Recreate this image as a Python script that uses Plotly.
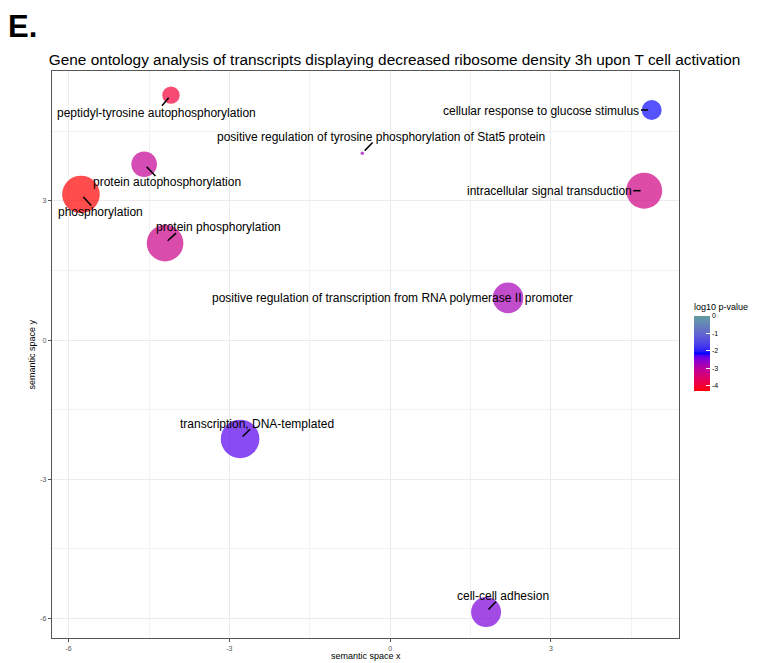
import numpy as np
import plotly.graph_objects as go

# GO terms (REVIGO semantic space) -------------------------------------------
terms = [
    "peptidyl-tyrosine autophosphorylation",
    "positive regulation of tyrosine phosphorylation of Stat5 protein",
    "protein autophosphorylation",
    "phosphorylation",
    "protein phosphorylation",
    "cellular response to glucose stimulus",
    "intracellular signal transduction",
    "positive regulation of transcription from RNA polymerase II promoter",
    "transcription, DNA-templated",
    "cell-cell adhesion",
]
sem_x = [-4.09, -0.52, -4.59, -5.77, -4.20, 4.88, 4.74, 2.20, -2.80, 1.79]
sem_y = [5.28, 4.03, 3.79, 3.14, 2.09, 4.96, 3.22, 0.91, -2.13, -5.86]
log_size = [2.74, 1.96, 3.68, 5.71, 5.52, 3.00, 5.40, 4.44, 5.92, 4.34]
log10_p = [-3.95, -2.72, -3.10, -4.28, -3.21, -2.10, -3.27, -2.78, -2.29, -2.46]

x_tick_vals = [-6, -3, 0, 3]
x_tick_text = ["-6", "-3", "0", "3"]
y_tick_vals = [-6, -3, 0, 3]
y_tick_text = ["-6", "-3", "0", "3"]
cbar_tick_vals = [0, -1, -2, -3, -4]
cbar_tick_text = ["0", "-1", "-2", "-3", "-4"]

# repelled label placement (screen pixels, y down): label centre offset
# from its point, and far end of the leader segment (None = no segment)
label_offsets = [
    (-14, 17.7), (19, -16.3), (23.3, 17.7), (19.3, 17.7), (53, -16.3),
    (-110.2, 1), (-94.5, 0.3), (-115.5, 0), (17, -15), (17, -16.3),
]
segment_ends = [
    (-9, 10.7), (10.3, -10.6), (11.3, 11.7), (10.3, 11), (11, -10),
    (-10.7, 0), (-11, 0), None, (10, -9.7), (10, -10.6),
]
SEG_GAP = 3.5

FONT = "Liberation Sans, Arial, Helvetica, sans-serif"


# colour ramp red -> blue -> cadetblue, interpolated in CIELAB -------------
def srgb_to_lab(rgb):
    c = np.asarray(rgb, float) / 255.0
    lin = np.where(c <= 0.04045, c / 12.92, ((c + 0.055) / 1.055) ** 2.4)
    m = np.array([[0.4124564, 0.3575761, 0.1804375],
                  [0.2126729, 0.7151522, 0.0721750],
                  [0.0193339, 0.1191920, 0.9503041]])
    xyz = m @ lin / np.array([0.95047, 1.0, 1.08883])
    d = 6 / 29
    f = np.where(xyz > d ** 3, np.cbrt(xyz), xyz / (3 * d * d) + 4 / 29)
    return np.array([116 * f[1] - 16, 500 * (f[0] - f[1]), 200 * (f[1] - f[2])])


def lab_to_srgb(lab):
    L, a, b = lab
    fy = (L + 16) / 116
    fx = fy + a / 500
    fz = fy - b / 200
    d = 6 / 29
    f = np.array([fx, fy, fz])
    xyz = np.where(f > d, f ** 3, 3 * d * d * (f - 4 / 29)) * np.array([0.95047, 1.0, 1.08883])
    minv = np.array([[3.2404542, -1.5371385, -0.4985314],
                     [-0.9692660, 1.8760108, 0.0415560],
                     [0.0556434, -0.2040259, 1.0572252]])
    lin = np.clip(minv @ xyz, 0, 1)
    c = np.where(lin <= 0.0031308, 12.92 * lin, 1.055 * lin ** (1 / 2.4) - 0.055)
    return tuple(int(round(v)) for v in np.clip(c, 0, 1) * 255)


anchors = [srgb_to_lab((255, 0, 0)), srgb_to_lab((0, 0, 255)), srgb_to_lab((95, 158, 160))]
colorscale = []
for u in np.linspace(0, 1, 41):
    seg = 0 if u <= 0.5 else 1
    s = (u - 0.5 * seg) / 0.5
    lab = anchors[seg] * (1 - s) + anchors[seg + 1] * s
    r, g, b = lab_to_srgb(lab)
    colorscale.append([float(u), f"rgb({r},{g},{b})"])

# bubble size: area proportional to log size
r_min, r_max = 1.75, 19.3
ls = np.array(log_size)
t = (ls - ls.min()) / (ls.max() - ls.min())
diam = 2 * np.sqrt(r_min ** 2 + t * (r_max ** 2 - r_min ** 2))

fig = go.Figure()
fig.add_trace(go.Scatter(
    x=sem_x, y=sem_y, mode="markers",
    marker=dict(
        size=diam, sizemode="diameter", color=log10_p,
        colorscale=colorscale, cmin=min(log10_p), cmax=0, opacity=0.7,
        line=dict(width=0),
        colorbar=dict(
            title=dict(text="log10 p-value", side="top",
                       font=dict(family=FONT, size=9, color="black")),
            tickvals=cbar_tick_vals, ticktext=cbar_tick_text,
            tickfont=dict(family=FONT, size=7, color="black"),
            ticks="inside", ticklen=4, tickcolor="white", tickwidth=1,
            thickness=16, lenmode="pixels", len=90,
            x=1.024, xanchor="left", y=(638 - 390.7) / 567, yanchor="bottom",
            xpad=0, ypad=0, outlinewidth=0,
        ),
    ),
    hovertext=terms, showlegend=False,
))

annotations = []
shapes = []
for i, term in enumerate(terms):
    dx, dy = label_offsets[i]
    annotations.append(dict(
        x=sem_x[i], y=sem_y[i], xref="x", yref="y", text=term,
        showarrow=False, xshift=dx, yshift=-dy,
        font=dict(family=FONT, size=12, color="black"),
    ))
    end = segment_ends[i]
    if end is not None:
        ex, ey = end
        n = np.hypot(ex, ey)
        sx, sy = ex / n * SEG_GAP, ey / n * SEG_GAP
        shapes.append(dict(
            type="line", xref="x", yref="y",
            xsizemode="pixel", ysizemode="pixel",
            xanchor=sem_x[i], yanchor=sem_y[i],
            x0=sx, x1=ex, y0=-sy, y1=-ey,
            line=dict(color="black", width=1.5),
        ))

annotations += [
    dict(text="semantic space x", x=0.5, y=-0.032, xref="paper", yref="paper",
         xanchor="center", yanchor="middle", showarrow=False,
         font=dict(family=FONT, size=9, color="black")),
    dict(text="semantic space y", x=-0.032, y=0.5, xref="paper", yref="paper",
         xanchor="center", yanchor="middle", showarrow=False, textangle=-90,
         font=dict(family=FONT, size=9, color="black")),
    # panel tag
    dict(text="<b>E.</b>", x=(6 - 52) / (764 - 52 - 85), y=1 + (71 - 26) / (663 - 71 - 25),
         xref="paper", yref="paper", xanchor="left", yanchor="middle",
         showarrow=False, font=dict(family=FONT, size=31, color="black")),
]

axis_common = dict(
    showgrid=True, gridcolor="#ebebeb", gridwidth=1,
    zeroline=False, showline=True, linecolor="#555555", linewidth=1.2,
    mirror=True, ticks="outside", ticklen=3, tickcolor="#555555", tickwidth=0.8,
    tickfont=dict(family=FONT, size=7, color="#555555"),
)

fig.update_layout(
    width=764, height=663,
    margin=dict(l=52, r=85, t=71, b=25),
    paper_bgcolor="white", plot_bgcolor="white",
    title=dict(
        text="Gene ontology analysis of transcripts displaying decreased ribosome density 3h upon T cell activation",
        x=394.5 / 764, xanchor="center", y=1 - 60 / 663, yanchor="middle",
        xref="container", yref="container",
        font=dict(family=FONT, size=15.4, color="black"),
    ),
    xaxis=dict(range=[-6.31, 5.39], tickvals=x_tick_vals, ticktext=x_tick_text,
               minor=dict(tickvals=[-4.5, -1.5, 1.5, 4.5], showgrid=True,
                          gridcolor="#f2f2f2", gridwidth=1, ticks=""),
               **axis_common),
    yaxis=dict(range=[-6.42, 5.80], tickvals=y_tick_vals, ticktext=y_tick_text,
               minor=dict(tickvals=[-4.5, -1.5, 1.5, 4.5], showgrid=True,
                          gridcolor="#f2f2f2", gridwidth=1, ticks=""),
               **axis_common),
    annotations=annotations,
    shapes=shapes,
)

fig.write_html("out.html")
